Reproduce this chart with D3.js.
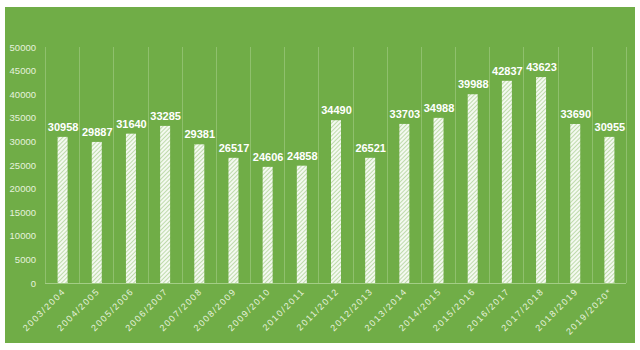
<!DOCTYPE html>
<html>
<head>
<meta charset="utf-8">
<script src="https://cdnjs.cloudflare.com/ajax/libs/d3/7.8.5/d3.min.js"></script>
<style>
  html, body { margin: 0; padding: 0; background: #ffffff; }
  svg { display: block; }
</style>
</head>
<body>
<script>
// Academic years and their counts
const years = ["2003/2004","2004/2005","2005/2006","2006/2007","2007/2008","2008/2009",
  "2009/2010","2010/2011","2011/2012","2012/2013","2013/2014","2014/2015","2015/2016",
  "2016/2017","2017/2018","2018/2019","2019/2020*"];
const counts = [30958,29887,31640,33285,29381,26517,24606,24858,34490,26521,33703,34988,
  39988,42837,43623,33690,30955];
const yTicks = [0,5000,10000,15000,20000,25000,30000,35000,40000,45000,50000];

const W = 640, H = 350;
const bg = "#70ad47";
const plot = { left: 45, right: 626, top: 47, bottom: 283 };

const svg = d3.select("body").append("svg").attr("width", W).attr("height", H);

// hatched fill for the bars
const defs = svg.append("defs");
const pat = defs.append("pattern")
  .attr("id", "hatch").attr("patternUnits", "userSpaceOnUse")
  .attr("width", 3).attr("height", 3)
  .attr("patternTransform", "rotate(45)");
pat.append("rect").attr("width", 3).attr("height", 3).attr("fill", "#f4f9f0");
pat.append("line").attr("x1", 0).attr("y1", 0).attr("x2", 0).attr("y2", 3)
  .attr("stroke", "#9cc87e").attr("stroke-width", 1.2);

// chart area
svg.append("rect").attr("x", 5).attr("y", 7).attr("width", 630).attr("height", 336)
  .attr("fill", bg);

const x = d3.scaleBand().domain(years).range([plot.left, plot.right]).paddingInner(0).paddingOuter(0);
const y = d3.scaleLinear().domain([0, 50000]).range([plot.bottom, plot.top]);

// vertical gridlines at category boundaries
const bounds = years.map(d => x(d)).concat([plot.right]);
svg.append("g").selectAll("line").data(bounds).join("line")
  .attr("x1", d => Math.round(d) + 0.5).attr("x2", d => Math.round(d) + 0.5)
  .attr("y1", plot.top).attr("y2", plot.bottom)
  .attr("stroke", "#8fc06d").attr("stroke-width", 1);

// y axis labels
const yAxis = d3.axisLeft(y).tickValues(yTicks).tickSize(0).tickPadding(9).tickFormat(d3.format("d"));
const gy = svg.append("g").attr("transform", `translate(${plot.left},0)`).call(yAxis);
gy.select(".domain").remove();
gy.selectAll("text").attr("fill", "#e6f2dd").attr("font-family", "Liberation Sans, Arial, sans-serif")
  .attr("font-size", "9.5px");

// bars
const bw = 10;
svg.append("g").selectAll("rect").data(counts).join("rect")
  .attr("x", (d, i) => x(years[i]) + x.bandwidth() / 2 - bw / 2 + 0.5)
  .attr("y", d => y(d))
  .attr("width", bw)
  .attr("height", d => plot.bottom - y(d))
  .attr("fill", "url(#hatch)");

// baseline
svg.append("line").attr("x1", plot.left).attr("x2", plot.right)
  .attr("y1", plot.bottom + 0.5).attr("y2", plot.bottom + 0.5)
  .attr("stroke", "#a3cd86").attr("stroke-width", 1);

// value labels
svg.append("g").selectAll("text").data(counts).join("text")
  .attr("x", (d, i) => x(years[i]) + x.bandwidth() / 2 + 1)
  .attr("y", d => y(d) - 6)
  .attr("text-anchor", "middle")
  .attr("fill", "#ffffff")
  .attr("font-family", "Liberation Sans, Arial, sans-serif")
  .attr("font-weight", "bold")
  .attr("font-size", "11px")
  .text(d => d);

// category labels, rotated
const xAxis = d3.axisBottom(x).tickSize(0).tickPadding(0);
const gx = svg.append("g").attr("transform", `translate(0,${plot.bottom})`).call(xAxis);
gx.select(".domain").remove();
gx.selectAll("text")
  .attr("fill", "#e6f2dd")
  .attr("font-family", "Liberation Sans, Arial, sans-serif")
  .attr("font-size", "9px")
  .attr("letter-spacing", "1.5px")
  .attr("text-anchor", "end")
  .attr("dy", null)
  .attr("y", 0)
  .attr("transform", "translate(4,9) rotate(-45)");
</script>
</body>
</html>
